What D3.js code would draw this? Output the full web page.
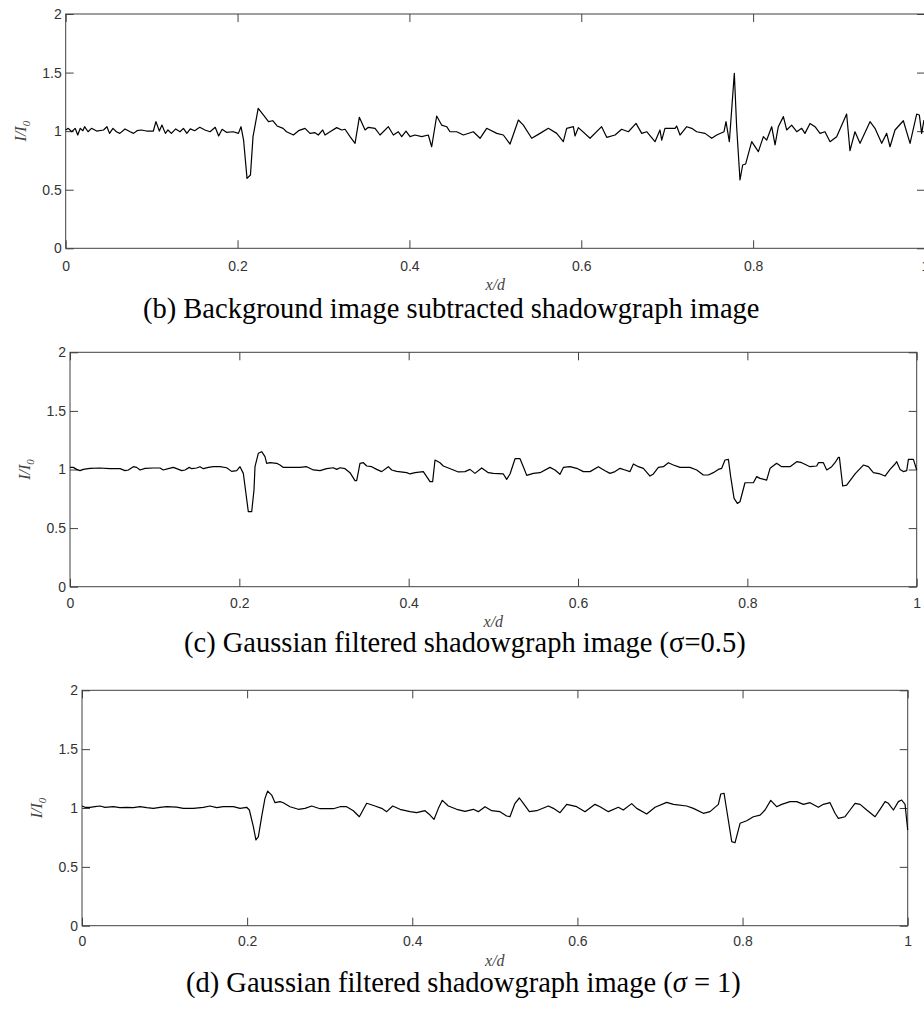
<!DOCTYPE html>
<html><head><meta charset="utf-8">
<script src="https://cdn.jsdelivr.net/npm/d3@7"></script>
<style>body{margin:0;background:#fff}svg{display:block}</style>
</head><body>
<svg id="chart" width="924" height="1010"></svg>
<script>
// ---------------- data ----------------
const xTicks = [0, 0.2, 0.4, 0.6, 0.8, 1];
const xTickLabels = ["0", "0.2", "0.4", "0.6", "0.8", "1"];
const yTicks = [0, 0.5, 1, 1.5, 2];
const yTickLabels = ["0", "0.5", "1", "1.5", "2"];

// (b) background image subtracted
const bX = [0,0.003,0.007,0.011,0.014,0.017,0.020,0.022,0.026,0.030,0.036,0.044,0.048,0.051,0.055,0.059,0.063,0.069,0.075,0.079,0.083,0.088,0.094,0.102,0.105,0.109,0.112,0.116,0.119,0.123,0.128,0.133,0.137,0.141,0.145,0.150,0.156,0.162,0.168,0.174,0.178,0.182,0.187,0.195,0.201,0.204,0.207,0.211,0.215,0.218,0.224,0.230,0.236,0.241,0.246,0.253,0.257,0.265,0.271,
0.2785,0.2843,0.2901,0.2940,0.2991,0.3018,0.3076,0.3154,0.3212,0.3251,0.3309,0.3367,0.3417,0.3484,0.3522,0.3600,0.3658,0.3755,0.3813,0.3871,0.3910,0.3960,0.4007,0.4065,0.4143,0.4220,0.4259,0.4317,0.4375,0.4434,0.4472,0.4550,0.4628,0.4744,0.4822,0.4899,0.5016,0.5093,0.5171,0.5268,0.5326,0.5423,0.5520,0.5617,0.5714,0.5791,0.5830,0.5908,0.5927,0.5966,0.6102,0.6237,0.6296,0.6393,0.6470,0.6548,
0.6637,0.6703,0.6761,0.6858,0.6916,0.6936,0.6974,0.7091,0.7110,0.7149,0.7227,0.7285,0.7343,0.7440,0.7518,0.7576,0.7661,0.7684,0.7723,0.7781,0.7808,0.7847,0.7878,0.7913,0.7983,0.8061,0.8119,0.8158,0.8216,0.8255,0.8293,0.8352,0.8390,0.8448,0.8507,0.8565,0.8603,0.8662,0.8720,0.8778,0.8836,0.8895,0.8972,0.9088,0.9127,0.9185,0.9244,0.9360,0.9418,0.9496,0.9554,0.9593,0.9651,0.9748,0.9826,0.9903,0.9934,0.9961,0.9988];
const bY = [1.010,1.024,0.995,1.024,0.967,1.024,1.004,1.038,0.995,1.024,1.001,1.010,1.038,0.981,1.024,0.995,0.981,1.019,0.995,0.981,1.004,1.010,1.001,1.001,1.081,1.001,1.052,0.981,1.010,0.981,1.019,0.995,1.024,0.981,1.019,1.004,1.033,1.010,0.995,1.033,0.959,1.016,0.990,0.995,0.981,1.038,0.924,0.597,0.626,0.953,1.195,1.138,1.081,1.089,1.044,1.024,0.995,0.967,1.004,
1.024,0.981,0.987,0.967,1.010,0.967,0.995,1.030,1.010,1.016,0.953,0.896,1.118,1.010,1.033,1.024,0.967,1.038,0.967,0.995,0.953,1.001,0.953,0.967,0.953,0.967,0.867,1.129,1.052,1.038,0.995,0.995,0.967,0.995,0.939,1.024,0.981,0.967,0.890,1.095,1.052,0.939,0.981,1.024,0.981,0.910,1.024,1.038,0.959,1.030,0.939,1.038,0.947,0.967,1.016,0.995,
1.066,0.981,0.995,0.910,1.010,0.924,1.024,1.024,1.044,0.967,1.038,1.024,0.995,0.981,0.939,0.967,0.995,1.081,0.910,1.494,1.038,0.583,0.711,0.720,0.910,0.825,0.953,0.924,1.038,0.882,1.038,1.124,1.010,1.052,0.995,1.024,0.981,1.066,1.038,0.981,0.995,0.910,0.953,1.146,0.833,0.995,0.896,1.081,1.024,0.896,0.981,0.867,1.010,1.089,0.896,1.146,1.138,0.981,1.095];

// (c) Gaussian filtered, sigma = 0.5
const cX = [0,0.0039,0.0079,0.0118,0.0157,0.0236,0.0354,0.0472,0.0591,0.0650,0.0689,0.0748,0.0787,0.0827,0.0886,0.0984,0.1063,0.1102,0.1161,0.1220,0.1260,0.1319,0.1358,0.1409,0.1437,0.1496,0.1535,0.1575,0.1634,0.1693,0.1772,0.1850,0.1909,0.1969,0.2008,0.2047,0.2106,0.2146,0.2173,0.2185,0.2224,0.2264,0.2303,0.2323,0.2362,0.2441,0.2480,0.2520,0.2598,0.2717,
0.2795,0.2874,0.2953,0.3031,0.3110,0.3150,0.3189,0.3248,0.3307,0.3366,0.3386,0.3425,0.3465,0.3504,0.3563,0.3622,0.3681,0.3760,0.3799,0.3858,0.3976,0.4016,0.4075,0.4173,0.4252,0.4283,0.4311,0.4370,0.4409,0.4469,0.4528,0.4587,0.4665,0.4724,0.4783,0.4862,0.4941,0.5000,0.5118,0.5157,0.5197,0.5256,0.5315,0.5354,0.5394,0.5472,0.5551,0.5669,0.5728,0.5787,0.5827,0.5906,0.5984,0.6063,0.6142,0.6240,
0.6319,0.6378,0.6437,0.6496,0.6555,0.6614,0.6654,0.6713,0.6772,0.6850,0.6890,0.6949,0.7008,0.7067,0.7126,0.7205,0.7323,0.7402,0.7480,0.7539,0.7598,0.7657,0.7697,0.7736,0.7776,0.7803,0.7843,0.7882,0.7913,0.7972,0.8071,0.8110,0.8150,0.8228,0.8268,0.8346,0.8406,0.8504,0.8583,0.8642,0.8740,0.8819,0.8839,0.8898,0.8937,0.8996,0.9035,0.9075,0.9087,0.9126,0.9173,0.9213,0.9272,0.9370,0.9429,0.9488,0.9567,0.9626,0.9685,0.9744,0.9764,0.9803,0.9843,0.9882,0.9902,0.9961,1.0];
const cY = [1.018,1.018,1.001,0.990,1.001,1.010,1.013,1.007,1.007,0.990,0.996,1.024,1.018,0.996,1.010,1.013,1.013,0.996,1.007,1.018,1.007,0.990,0.996,1.018,1.007,1.013,1.024,1.007,1.018,1.024,1.024,1.015,0.984,0.990,1.024,0.967,0.640,0.640,0.825,1.024,1.138,1.152,1.110,1.053,1.058,1.053,1.038,1.018,1.018,1.018,
1.024,0.996,0.990,1.007,1.015,1.001,1.015,1.007,0.973,0.905,0.905,1.053,1.058,1.030,1.024,1.001,0.982,1.024,0.996,0.984,0.973,0.962,0.973,0.982,0.896,0.896,1.081,1.058,1.030,1.013,0.996,0.979,0.982,1.001,0.967,1.013,0.973,0.967,0.962,0.916,0.962,1.092,1.092,1.024,0.950,0.967,0.973,1.018,0.996,0.959,1.018,1.024,1.010,0.982,0.982,1.024,
0.990,0.967,0.982,1.010,0.996,0.982,1.047,1.024,1.010,0.944,0.962,1.018,1.024,1.058,1.038,1.018,1.018,0.996,0.953,0.953,0.973,1.001,1.010,1.081,1.087,0.939,0.754,0.711,0.725,0.887,0.887,0.939,0.924,0.910,1.010,1.053,1.024,1.024,1.067,1.058,1.024,1.030,1.058,1.058,0.996,1.024,1.058,1.104,1.104,0.859,0.867,0.905,0.962,1.038,1.024,0.973,0.962,0.944,1.001,1.047,1.067,1.001,0.982,0.990,1.087,1.087,0.996];

// (d) Gaussian filtered, sigma = 1
const dX = [0,0.0036,0.0097,0.0157,0.0218,0.0279,0.0379,0.0460,0.0541,0.0622,0.0702,0.0783,0.0864,0.0945,0.1025,0.1147,0.1227,0.1348,0.1470,0.1550,0.1631,0.1712,0.1833,0.1914,0.1994,0.2027,0.2075,0.2107,0.2136,0.2176,0.2216,0.2249,0.2297,0.2338,0.2398,0.2438,0.2519,0.2620,0.2701,0.2782,
0.2883,0.3044,0.3125,0.3205,0.3286,0.3359,0.3448,0.3549,0.3629,0.3690,0.3763,0.3851,0.3973,0.4053,0.4154,0.4215,0.4263,0.4316,0.4364,0.4437,0.4538,0.4639,0.4739,0.4800,0.4881,0.4962,0.5062,0.5143,0.5183,0.5244,0.5297,0.5345,0.5418,0.5507,0.5648,0.5709,0.5789,0.5870,0.5991,0.6092,0.6213,0.6274,
0.6375,0.6496,0.6556,0.6657,0.6718,0.6839,0.6940,0.7081,0.7162,0.7323,0.7404,0.7525,0.7606,0.7707,0.7736,0.7776,0.7808,0.7869,0.7909,0.7970,0.8050,0.8131,0.8212,0.8272,0.8341,0.8413,0.8474,0.8575,0.8656,0.8737,0.8817,0.8918,0.8979,0.9059,0.9120,0.9160,0.9241,0.9302,0.9362,0.9423,0.9504,0.9605,0.9665,0.9726,0.9766,0.9827,0.9887,0.9927,0.9968,1.0];
const dY = [1.017,1.006,1.006,1.011,1.017,1.006,1.011,1.003,1.006,1.003,1.011,1.003,0.997,1.006,1.011,1.008,0.997,0.997,1.006,1.017,1.003,1.011,1.011,0.997,1.006,0.983,0.841,0.728,0.756,0.926,1.082,1.144,1.110,1.045,1.054,1.045,1.011,0.989,0.997,1.017,
0.994,0.994,1.011,1.011,0.977,0.926,1.040,1.017,0.997,0.969,1.017,0.989,0.969,0.960,0.977,0.940,0.903,0.997,1.065,1.017,0.989,0.972,0.989,0.969,1.011,0.977,0.969,0.932,0.926,1.040,1.085,1.040,0.969,0.977,1.017,0.997,0.960,1.031,1.011,0.969,1.031,1.011,
0.969,1.006,0.983,1.037,0.997,0.949,1.006,1.048,1.031,1.017,0.997,0.955,0.969,1.031,1.119,1.125,0.983,0.714,0.705,0.870,0.892,0.926,0.940,0.983,1.065,1.011,1.031,1.054,1.054,1.031,1.045,1.006,1.031,1.045,0.955,0.912,0.926,0.983,1.040,1.031,0.983,0.926,0.989,1.054,1.040,0.983,1.054,1.068,1.031,0.813];

const captionB = "(b) Background image subtracted shadowgraph image";
const captionC = "(c) Gaussian filtered shadowgraph image (σ=0.5)";
const captionD = ["(d) Gaussian filtered shadowgraph image (", "σ", " = 1)"];

// ---------------- layout ----------------
const panels = [
  {xs: bX, ys: bY, left: 65.7, right: 925, top: 14, bottom: 248.3, pad: 13, xlabY: 290, capX: 143, capY: 318, cap: [captionB]},
  {xs: cX, ys: cY, left: 70, right: 916.7, top: 352.3, bottom: 586.7, pad: 11, xlabY: 627, capX: 184, capY: 652, cap: [captionC]},
  {xs: dX, ys: dY, left: 82, right: 907.7, top: 690.3, bottom: 925.7, pad: 10, xlabY: 966, capX: 186, capY: 992, cap: captionD, italicIdx: 1}
];

const svg = d3.select("#chart");
const tickFont = "'Liberation Sans', Arial, sans-serif";
const serif = "'Liberation Serif', 'Times New Roman', serif";

panels.forEach(p => {
  const x = d3.scaleLinear().domain([0, 1]).range([p.left, p.right]);
  const y = d3.scaleLinear().domain([0, 2]).range([p.bottom, p.top]);
  const g = svg.append("g");

  const styleAxis = sel => {
    sel.select(".domain").remove();
    sel.selectAll(".tick line").attr("stroke", "#404040").attr("stroke-width", 1);
    sel.selectAll(".tick text").attr("fill", "#333").attr("font-family", tickFont).attr("font-size", 14);
  };

  g.append("g").attr("transform", `translate(0,${p.bottom})`)
    .call(d3.axisBottom(x).tickValues(xTicks).tickFormat((d, i) => xTickLabels[i])
      .tickSizeInner(-8).tickSizeOuter(0).tickPadding(p.pad)).call(styleAxis);
  g.append("g").attr("transform", `translate(0,${p.top})`)
    .call(d3.axisTop(x).tickValues(xTicks).tickFormat("")
      .tickSizeInner(-8).tickSizeOuter(0)).call(styleAxis);
  g.append("g").attr("transform", `translate(${p.left},0)`)
    .call(d3.axisLeft(y).tickValues(yTicks).tickFormat((d, i) => yTickLabels[i])
      .tickSizeInner(-8).tickSizeOuter(0).tickPadding(4)).call(styleAxis);
  g.append("g").attr("transform", `translate(${p.right},0)`)
    .call(d3.axisRight(y).tickValues(yTicks).tickFormat("")
      .tickSizeInner(-8).tickSizeOuter(0)).call(styleAxis);

  g.append("rect").attr("x", p.left).attr("y", p.top)
    .attr("width", p.right - p.left).attr("height", p.bottom - p.top)
    .attr("fill", "none").attr("stroke", "#404040").attr("stroke-width", 1);

  const pts = p.xs.map((v, i) => [v, p.ys[i]]);
  g.append("path").datum(pts)
    .attr("fill", "none").attr("stroke", "#000").attr("stroke-width", 1.2)
    .attr("stroke-linejoin", "round")
    .attr("d", d3.line().x(d => x(d[0])).y(d => y(d[1])));

  // x label
  g.append("text").attr("x", (p.left + p.right) / 2).attr("y", p.xlabY)
    .attr("text-anchor", "middle").attr("font-family", serif).attr("font-style", "italic")
    .attr("font-size", 16).attr("fill", "#444").text("x/d");

  // y label
  const yl = g.append("text")
    .attr("transform", `translate(${p.left - 40},${(p.top + p.bottom) / 2}) rotate(-90)`)
    .attr("text-anchor", "middle").attr("font-family", serif).attr("font-style", "italic")
    .attr("font-size", 16).attr("fill", "#444");
  yl.append("tspan").text("I/I");
  yl.append("tspan").attr("font-size", 11).attr("dy", 4).text("0");

  // caption
  const cap = g.append("text").attr("x", p.capX).attr("y", p.capY)
    .attr("text-anchor", "start").attr("font-family", serif)
    .attr("font-size", 28.5).attr("fill", "#000");
  p.cap.forEach((s, i) => {
    const t = cap.append("tspan").text(s);
    if (p.italicIdx === i) t.attr("font-style", "italic");
  });
});
</script>
</body></html>
